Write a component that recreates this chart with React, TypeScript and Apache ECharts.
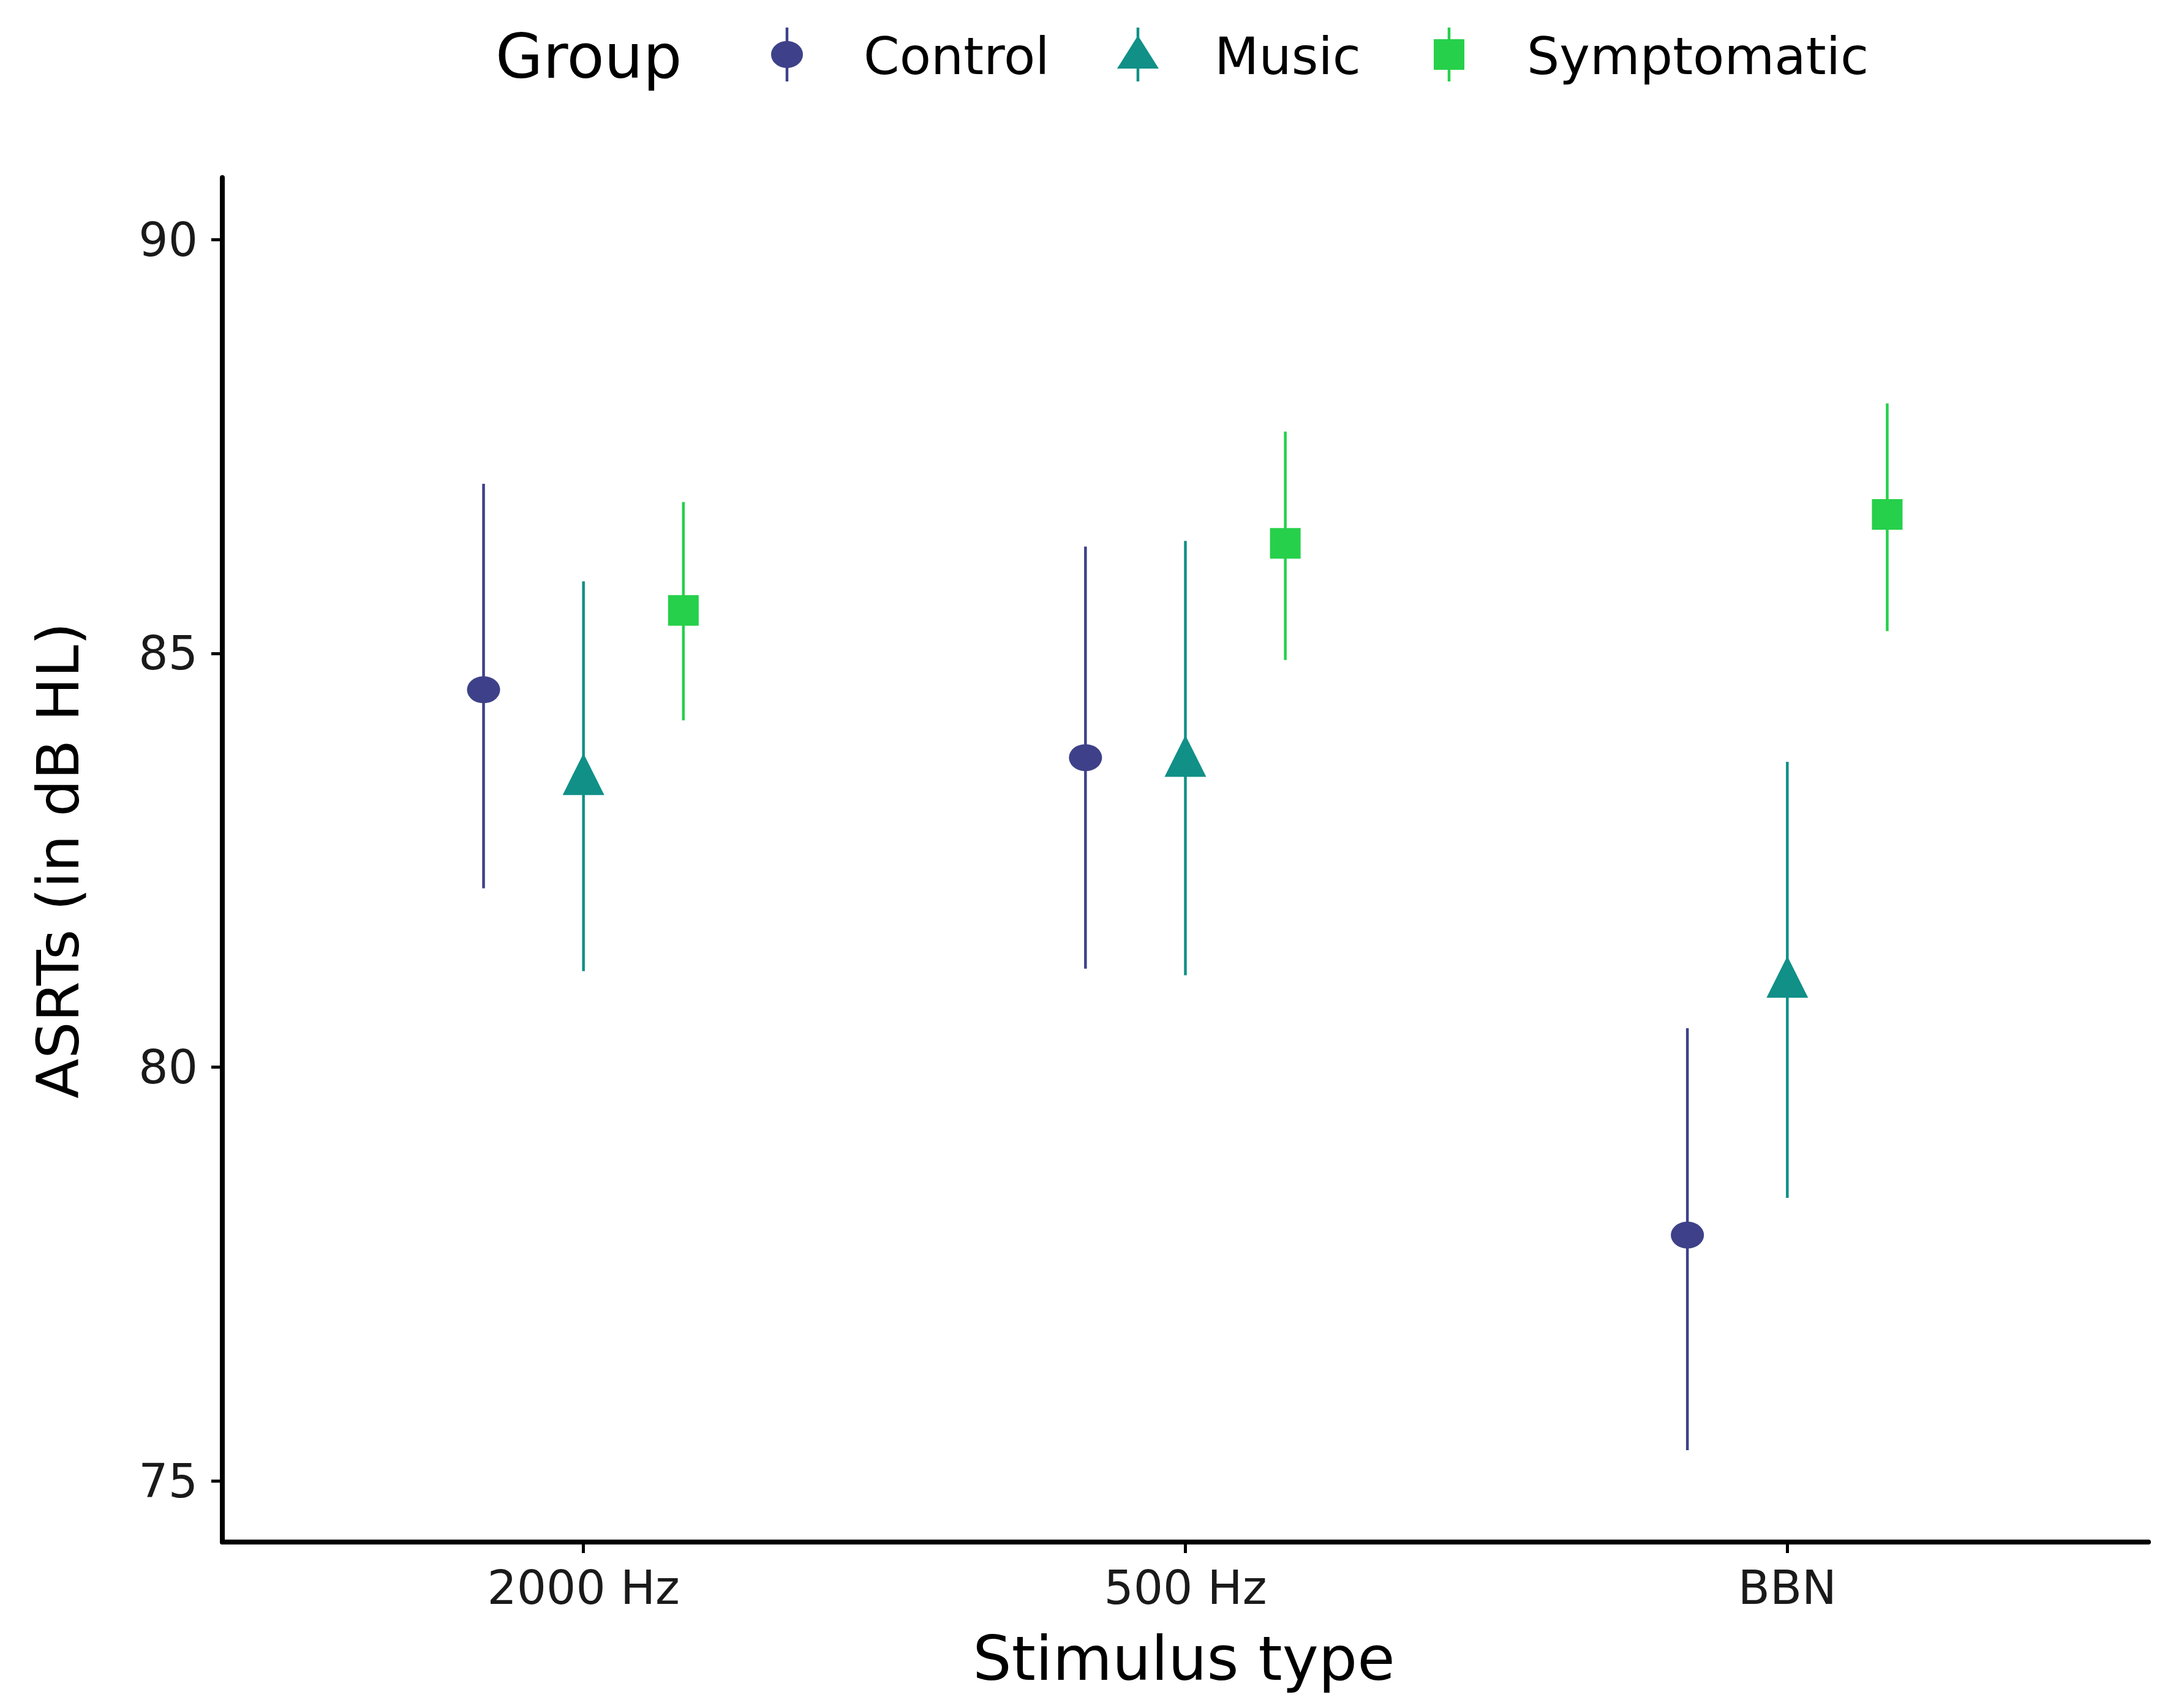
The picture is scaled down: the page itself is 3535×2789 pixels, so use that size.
import React, { useEffect, useRef } from "react";
import * as echarts from "echarts";

const categories = ["2000 Hz", "500 Hz", "BBN"];
const groups = ["Control", "Music", "Symptomatic"];
const colors = ["#3E4189", "#109087", "#26D04A"];
const symbols = ["circle", "triangle", "rect"];
const symbolSizes = [[54, 44], 68, 50];
const offsets = [-0.166, 0, 0.166];
const yTicks = [75, 80, 85, 90];
// mean, lower, upper per category
const controlMean = [84.56, 83.74, 77.97];
const controlLow = [82.16, 81.19, 75.37];
const controlHigh = [87.05, 86.29, 80.47];
const musicMean = [83.54, 83.76, 81.09];
const musicLow = [81.16, 81.11, 78.42];
const musicHigh = [85.87, 86.36, 83.69];
const sympMean = [85.52, 86.33, 86.68];
const sympLow = [84.19, 84.92, 85.27];
const sympHigh = [86.83, 87.68, 88.02];

const means = [controlMean, musicMean, sympMean];
const lows = [controlLow, musicLow, sympLow];
const highs = [controlHigh, musicHigh, sympHigh];

const FONT = "DejaVu Sans, Liberation Sans, sans-serif";

export default function App() {
  const ref = useRef<HTMLDivElement>(null);
  useEffect(() => {
    document.body.style.margin = "0";
    const chart = echarts.init(ref.current!, null, { renderer: "svg" });
    const series: any[] = [];
    groups.forEach((g, gi) => {
      series.push({
        type: "custom",
        name: g + " err",
        data: categories.map((_, ci) => [ci + 1 + offsets[gi], lows[gi][ci], highs[gi][ci]]),
        renderItem: (params: any, api: any) => {
          const p1 = api.coord([api.value(0), api.value(1)]);
          const p2 = api.coord([api.value(0), api.value(2)]);
          return {
            type: "line",
            shape: { x1: p1[0], y1: p1[1], x2: p2[0], y2: p2[1] },
            style: { stroke: colors[gi], lineWidth: 4.5 },
          };
        },
        z: 2,
      });
      series.push({
        type: "scatter",
        name: g,
        symbol: symbols[gi],
        symbolSize: symbolSizes[gi],
        itemStyle: { color: colors[gi], opacity: 1 },
        data: categories.map((_, ci) => [ci + 1 + offsets[gi], means[gi][ci]]),
        z: 3,
      });
    });
    const legendX = [1285, 1858, 2366];
    const labelX = [1410, 1983, 2493];
    const graphic: any[] = [
      { type: "text", x: 809, y: 92, style: { text: "Group", font: `100px ${FONT}`, fill: "#000", verticalAlign: "middle" } },
      { type: "text", x: 95, y: 1405, rotation: Math.PI / 2, style: { text: "ASRTs (in dB HL)", font: `95px ${FONT}`, fill: "#000", align: "center", verticalAlign: "middle" } },
      { type: "text", x: 1933, y: 2708, style: { text: "Stimulus type", font: `100px ${FONT}`, fill: "#000", align: "center", verticalAlign: "middle" } },
    ];
    groups.forEach((g, gi) => {
      graphic.push({ type: "line", shape: { x1: legendX[gi], y1: 45, x2: legendX[gi], y2: 133 }, style: { stroke: colors[gi], lineWidth: 4.5 } });
      if (gi === 0) graphic.push({ type: "ellipse", shape: { cx: legendX[gi], cy: 89, rx: 26, ry: 22 }, style: { fill: colors[gi] } });
      if (gi === 1) graphic.push({ type: "polygon", shape: { points: [[legendX[gi], 58], [legendX[gi] - 34, 112], [legendX[gi] + 34, 112]] }, style: { fill: colors[gi] } });
      if (gi === 2) graphic.push({ type: "rect", shape: { x: legendX[gi] - 25, y: 64, width: 50, height: 50 }, style: { fill: colors[gi] } });
      graphic.push({ type: "text", x: labelX[gi], y: 92, style: { text: g, font: `84px ${FONT}`, fill: "#000", verticalAlign: "middle" } });
    });
    chart.setOption({
      animation: false,
      backgroundColor: "#fff",
      grid: { left: 363, right: 27, top: 290, bottom: 271, containLabel: false },
      xAxis: {
        type: "value", min: 0.4, max: 3.6,
        axisLine: { lineStyle: { color: "#000", width: 8 } },
        axisTick: { show: true, length: 18, lineStyle: { color: "#000", width: 5 }, customValues: [1, 2, 3] },
        axisLabel: { customValues: [1, 2, 3], formatter: (v: number) => categories[Math.round(v) - 1] ?? "", fontSize: 76, fontFamily: FONT, color: "#1a1a1a", margin: 36 },
        splitLine: { show: false },
      },
      yAxis: {
        type: "value", min: 74.26, max: 90.75,
        axisLine: { show: true, lineStyle: { color: "#000", width: 8 } },
        axisTick: { show: true, length: 18, lineStyle: { color: "#000", width: 5 }, customValues: yTicks },
        axisLabel: { customValues: yTicks, fontSize: 76, fontFamily: FONT, color: "#1a1a1a", margin: 40 },
        splitLine: { show: false },
      },
      graphic,
      series,
    });
    return () => chart.dispose();
  }, []);
  return <div ref={ref} style={{ width: 3535, height: 2789 }} />;
}
